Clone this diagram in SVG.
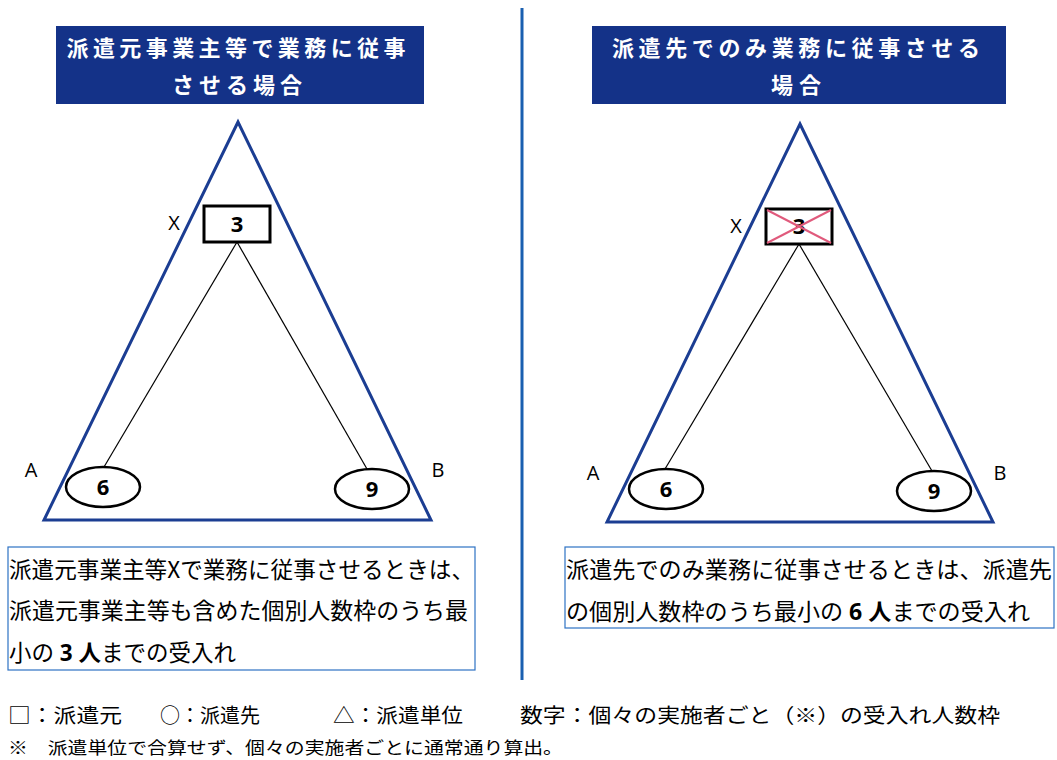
<svg xmlns="http://www.w3.org/2000/svg" width="1057" height="760" viewBox="0 0 1057 760">
<style>
.hdr{fill:#143288}
.ht{fill:#fff;font-family:"Noto Sans CJK JP","Noto Sans CJK SC",sans-serif;font-size:22px;font-weight:bold;text-anchor:middle}
.tri{fill:none;stroke:#1b3d92;stroke-width:3}
.src{fill:#fff;stroke:#000;stroke-width:3}
.dst{fill:#fff;stroke:#000;stroke-width:2.5}
.num{font-family:"Open Sans","DejaVu Sans",sans-serif;font-size:22px;font-weight:bold;text-anchor:middle;fill:#000}
.lbl{font-family:"Open Sans","DejaVu Sans",sans-serif;font-size:20px;fill:#000;text-anchor:middle}
.conn{stroke:#000;stroke-width:1.2;fill:none}
.box{fill:#fff;stroke:#2e72c4;stroke-width:1.2}
.bt{font-family:"Noto Sans CJK JP","Noto Sans CJK SC",sans-serif;font-size:22.5px;fill:#000}
.b{font-weight:bold;font-family:"Open Sans","Noto Sans CJK JP",sans-serif}
.ft{font-family:"Noto Sans CJK JP","Noto Sans CJK SC",sans-serif;font-size:20px;fill:#000}
.ft2{font-family:"Noto Sans CJK JP","Noto Sans CJK SC",sans-serif;font-size:17px;fill:#000}
</style>
<rect width="1057" height="760" fill="#fff"/>
<line x1="522" y1="8" x2="522" y2="680" stroke="#1a5fb0" stroke-width="3"/>
<g id="header-left">
<rect class="hdr" x="56" y="26" width="368" height="78"/>
<text class="ht" x="236" y="56" textLength="339" lengthAdjust="spacing">派遣元事業主等で業務に従事</text>
<text class="ht" x="237" y="93" textLength="130" lengthAdjust="spacing">させる場合</text>
</g>
<g id="header-right">
<rect class="hdr" x="592" y="26" width="414" height="78"/>
<text class="ht" x="796" y="56" textLength="368" lengthAdjust="spacing">派遣先でのみ業務に従事させる</text>
<text class="ht" x="796" y="93" textLength="50" lengthAdjust="spacing">場合</text>
</g>
<g id="triangle-left"><polygon class="tri" points="238,122 44,520 431,520"/></g>
<g id="triangle-right"><polygon class="tri" points="800,124 607,522 993,522"/></g>
<g id="connectors">
<line class="conn" x1="237" y1="242" x2="104" y2="467"/>
<line class="conn" x1="237" y1="242" x2="367" y2="469"/>
<line class="conn" x1="799" y1="244" x2="665" y2="469"/>
<line class="conn" x1="799" y1="244" x2="932" y2="471"/>
</g>
<g id="node-x-left">
<rect class="src" x="204" y="206" width="66" height="36"/>
<text class="num" x="237" y="232">3</text>
<text class="lbl" x="174" y="230">X</text>
</g>
<g id="node-a-left">
<ellipse class="dst" cx="103" cy="487" rx="37" ry="20"/>
<text class="num" x="103" y="495">6</text>
<text class="lbl" x="31" y="477">A</text>
</g>
<g id="node-b-left">
<ellipse class="dst" cx="372" cy="489" rx="37" ry="20"/>
<text class="num" x="372" y="497">9</text>
<text class="lbl" x="438" y="477">B</text>
</g>
<g id="node-x-right">
<rect class="src" x="766" y="209" width="66" height="35"/>
<text class="num" x="799" y="234">3</text>
<line x1="767" y1="210" x2="831" y2="243" stroke="#e05a7c" stroke-width="2"/>
<line x1="831" y1="210" x2="767" y2="243" stroke="#e05a7c" stroke-width="2"/>
<text class="lbl" x="736" y="233">X</text>
</g>
<g id="node-a-right">
<ellipse class="dst" cx="666" cy="489" rx="37" ry="20"/>
<text class="num" x="666" y="497">6</text>
<text class="lbl" x="593" y="480">A</text>
</g>
<g id="node-b-right">
<ellipse class="dst" cx="934" cy="491" rx="37" ry="20"/>
<text class="num" x="934" y="499">9</text>
<text class="lbl" x="1000" y="480">B</text>
</g>
<g id="note-left">
<rect class="box" x="8" y="547" width="467" height="123"/>
<text class="bt" x="9" y="578" textLength="465" lengthAdjust="spacingAndGlyphs">派遣元事業主等Xで業務に従事させるときは、</text>
<text class="bt" x="9" y="619" textLength="459" lengthAdjust="spacingAndGlyphs">派遣元事業主等も含めた個別人数枠のうち最</text>
<text class="bt" x="9" y="661">小の<tspan class="b"> 3 人</tspan>までの受入れ</text>
</g>
<g id="note-right">
<rect class="box" x="565" y="547" width="489" height="81"/>
<text class="bt" x="566" y="578" textLength="486" lengthAdjust="spacingAndGlyphs">派遣先でのみ業務に従事させるときは、派遣先</text>
<text class="bt" x="566" y="620" textLength="464" lengthAdjust="spacingAndGlyphs">の個別人数枠のうち最小の<tspan class="b"> 6 人</tspan>までの受入れ</text>
</g>
<g id="legend">
<text class="ft" x="8" y="723" textLength="114" lengthAdjust="spacingAndGlyphs">□：派遣元</text>
<text class="ft" x="160" y="723" textLength="100" lengthAdjust="spacingAndGlyphs">○：派遣先</text>
<text class="ft" x="333" y="723" textLength="130" lengthAdjust="spacingAndGlyphs">△：派遣単位</text>
<text class="ft" x="520" y="723" textLength="480" lengthAdjust="spacingAndGlyphs">数字：個々の実施者ごと（※）の受入れ人数枠</text>
<text class="ft2" x="8" y="754" textLength="555" lengthAdjust="spacingAndGlyphs">※　派遣単位で合算せず、個々の実施者ごとに通常通り算出。</text>
</g>
</svg>
